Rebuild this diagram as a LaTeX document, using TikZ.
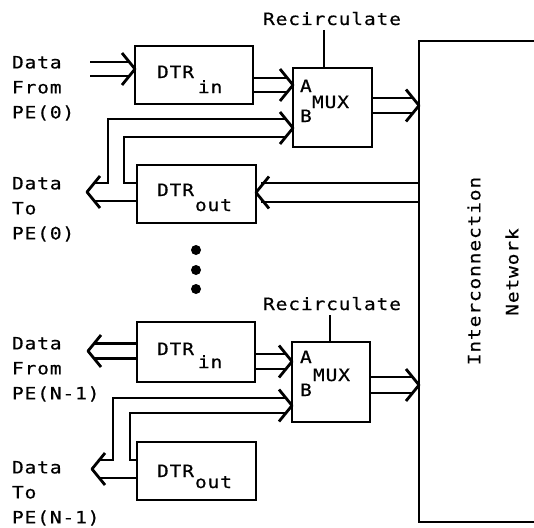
\documentclass[tikz,border=0pt]{standalone}
\usepackage{fontspec}
\newfontfamily\lblfont{DejaVu Sans Mono}[LetterSpace=5,FakeStretch=1.15,FakeBold=0.5]
\usetikzlibrary{calc}
\newcommand{\drawchev}[2]{\draw[line join=round] ($(#1)+({-(#2)*13},-16)$) -- (#1) -- ($(#1)+({-(#2)*13},16)$);}
\newcommand{\drawbus}[4]{%
  \draw ($(#1)+(0,-#3)$) -- ($(#2)+({-(#4)*13*(1-(#3)/16)},-#3)$);
  \draw ($(#1)+(0,#3)$) -- ($(#2)+({-(#4)*13*(1-(#3)/16)},#3)$);
  \drawchev{#2}{#4}}
\begin{document}
\begin{tikzpicture}[x=1pt,y=-1pt,line width=2.8pt,
  box/.style={draw,inner sep=0pt,outer sep=0pt},
  lbl/.style={font=\lblfont\fontsize{17pt}{25pt}\selectfont,inner sep=0pt,outer sep=0pt,align=left},
  dot/.style={circle,fill,inner sep=0pt,minimum size=10pt}]
\useasboundingbox (0,0) rectangle (534,527);
\fill[white] (0,0) rectangle (534,527);
% boxes
\node[box,minimum width=118pt,minimum height=58pt] (dtrin0) at (194,75) {};
\node[box,minimum width=79pt,minimum height=79pt] (mux0) at (332.5,107.5) {};
\node[box,minimum width=119pt,minimum height=58pt] (dtrout0) at (196.5,194) {};
\node[box,minimum width=118pt,minimum height=60pt] (dtrin1) at (196,352) {};
\node[box,minimum width=78pt,minimum height=80pt] (mux1) at (331,382) {};
\node[box,minimum width=119pt,minimum height=58pt] (dtrout1) at (196.5,471) {};
\node[box,minimum width=126pt,minimum height=481pt,anchor=north west] (net) at (419,41) {};
% left labels
\node[lbl,anchor=north west] (l0in) at (12,56) {Data\\From\\PE(0)};
\node[lbl,anchor=north west] (l0out) at (12,177) {Data\\To\\PE(0)};
\node[lbl,anchor=north west] (l1in) at (12,337) {Data\\From\\PE(N-1)};
\node[lbl,anchor=north west] (l1out) at (12,461) {Data\\To\\PE(N-1)};
% box labels
\node[lbl,anchor=base west] (t0a) at (157,78) {DTR};
\node[lbl,anchor=base west] (t0b) at (198,93) {in};
\node[lbl,anchor=base west] (t1a) at (157,196) {DTR};
\node[lbl,anchor=base west] (t1b) at (195,211) {out};
\node[lbl,anchor=base west] (t2a) at (157,355) {DTR};
\node[lbl,anchor=base west] (t2b) at (198,368) {in};
\node[lbl,anchor=base west] (t3a) at (157,477) {DTR};
\node[lbl,anchor=base west] (t3b) at (195,488) {out};
\node[lbl,anchor=base west] (m0a) at (300,92) {A};
\node[lbl,anchor=base west] (m0m) at (312,108) {MUX};
\node[lbl,anchor=base west] (m0b) at (300,122) {B};
\node[lbl,anchor=base west] (m1a) at (300,363) {A};
\node[lbl,anchor=base west] (m1m) at (313,381) {MUX};
\node[lbl,anchor=base west] (m1b) at (300,396) {B};
\node[lbl,rotate=90] (netA) at (474,271) {Interconnection};
\node[lbl,rotate=90] (netB) at (512,272) {Network};
% recirculate
\node[lbl,anchor=base] (rc0) at (332,25) {Recirculate};
\coordinate (rc0f) at (324,30);
\draw (rc0f) -- (rc0f |- mux0.north);
\node[lbl,anchor=base] (rc1) at (332,310) {Recirculate};
\coordinate (rc1f) at (330,315);
\draw (rc1f) -- (rc1f |- mux1.north);
% dots
\node[dot] (d1) at (196,250) {};
\node[dot] (d2) at (196,270) {};
\node[dot] (d3) at (196,289) {};
% upper buses
\coordinate (pe0in) at (90,69);
\coordinate (i0tip) at ($(dtrin0.west)+(0,-6)$);
\drawbus{pe0in}{i0tip}{7}{1}
\coordinate (a0s) at ($(dtrin0.east)+(0,10)$);
\coordinate (a0t) at ($(mux0.west)+(0,-22.5)$);
\drawbus{a0s}{a0t}{7}{1}
\coordinate (o0s) at ($(mux0.east)+(0,-2)$);
\coordinate (o0t) at (net.west |- o0s);
\drawbus{o0s}{o0t}{7.5}{1}
\coordinate (n0t) at ($(dtrout0.east)+(0,-1.5)$);
\coordinate (n0s) at (net.west |- n0t);
\drawbus{n0s}{n0t}{9.5}{-1}
\coordinate (p0t) at (87,192);
\coordinate (mb0) at ($(mux0.west)+(0,20.5)$);
\drawchev{p0t}{-1}
\drawchev{mb0}{1}
\draw ($(dtrout0.west)+(0,7)$) -- ($(p0t)+(5.7,9)$);
\draw ($(p0t)+(5.7,-9)$) -- (108,183) -- (108,119) -- ($(mb0)+(-5.7,-9)$);
\draw ($(dtrout0.west)+(0,-11)$) -- (124,183) -- (124,137) -- ($(mb0)+(-5.7,9)$);
% lower buses
\coordinate (q1s) at ($(dtrin1.west)+(0,-1)$);
\coordinate (q1t) at (88,351);
\drawbus{q1s}{q1t}{7.5}{-1}
\coordinate (a1s) at ($(dtrin1.east)+(0,9.5)$);
\coordinate (a1t) at (mux1.west |- a1s);
\drawbus{a1s}{a1t}{7.5}{1}
\coordinate (o1s) at ($(mux1.east)+(0,3)$);
\coordinate (o1t) at (net.west |- o1s);
\drawbus{o1s}{o1t}{8}{1}
\coordinate (p1t) at (92,469);
\coordinate (mb1) at ($(mux1.west)+(0,23.5)$);
\drawchev{p1t}{-1}
\drawchev{mb1}{1}
\draw ($(dtrout1.west)+(0,7)$) -- ($(p1t)+(5.7,9)$);
\draw ($(p1t)+(5.7,-9)$) -- (113,460) -- (113,398) -- ($(mb1)+(-6.9,-7.5)$);
\draw ($(dtrout1.west)+(0,-11)$) -- (130,460) -- (130,413) -- ($(mb1)+(-6.9,7.5)$);
\end{tikzpicture}
\end{document}
